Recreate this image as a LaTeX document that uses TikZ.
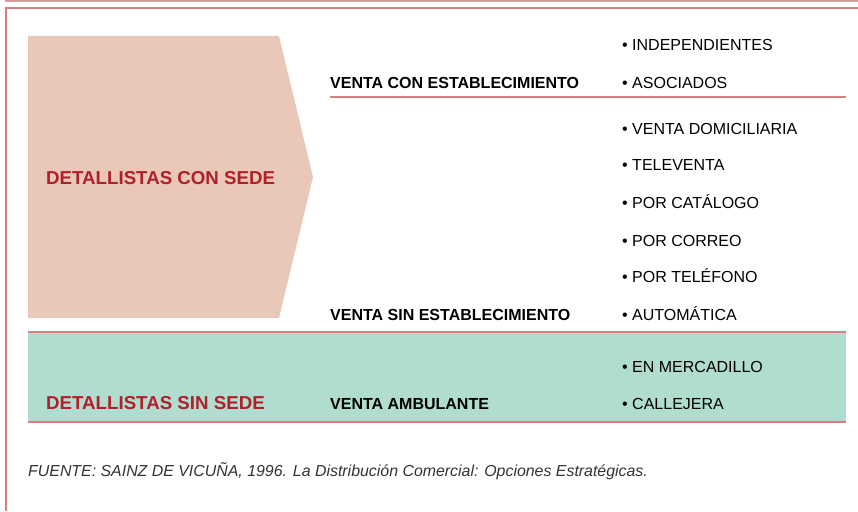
\documentclass[tikz,border=0pt]{standalone}
\usepackage{fontspec}
\setmainfont{Liberation Sans}
\definecolor{peach}{HTML}{E9C8B9}
\definecolor{teal2}{HTML}{B1DCD0}
\definecolor{rline}{HTML}{D67F7F}
\definecolor{rlight}{HTML}{DC9A9A}
\definecolor{rtext}{HTML}{B0202A}
\definecolor{ftext}{HTML}{333333}
\tikzset{
  item/.style={anchor=base west, inner sep=0pt, font=\fontsize{16pt}{19pt}\selectfont},
  cat/.style={anchor=base west, inner sep=0pt, font=\fontsize{16pt}{19pt}\selectfont\bfseries},
  group/.style={anchor=base west, inner sep=0pt, text=rtext, font=\fontsize{18.7pt}{22pt}\selectfont\bfseries},
  thick rule/.style={draw=rline, line width=2.5pt},
  thin rule/.style={draw=rline, line width=1.2pt}
}
\begin{document}
\begin{tikzpicture}[x=1pt,y=-1pt]
\useasboundingbox (0,0) rectangle (858,511);
% frame
\draw[draw=rlight, line width=2.5pt] (5,1.2) -- (858,1.2);
\draw[thick rule] (6,8) -- (858,8);
\draw[thick rule] (6,6.8) -- (6,511);
% shapes
\fill[peach] (28,36) -- (279,36) -- (313,177) -- (279,318) -- (28,318) -- cycle;
\fill[teal2] (28,333) rectangle (846,421);
\draw[thin rule] (330,97) -- (846,97);
\draw[thick rule] (28,332) -- (846,332);
\draw[thick rule] (28,422) -- (846,422);
% group labels
\node[group] (con) at (46,184.5) {DETALLISTAS CON SEDE};
\node[group] (sin) at (46,409) {DETALLISTAS SIN SEDE};
% categories
\node[cat] (vce) at (330,88) {VENTA CON ESTABLECIMIENTO};
\node[cat] (vse) at (330,320.5) {VENTA SIN ESTABLECIMIENTO};
\node[cat] (vam) at (330,409) {VENTA AMBULANTE};
% items
\node[item] (i1) at (622,51) {• INDEPENDIENTES};
\node[item] (i2) at (622,88) {• ASOCIADOS};
\node[item] (i3) at (622,134) {• VENTA DOMICILIARIA};
\node[item] (i4) at (622,170) {• TELEVENTA};
\node[item] (i5) at (622,208) {• POR CATÁLOGO};
\node[item] (i6) at (622,246) {• POR CORREO};
\node[item] (i7) at (622,282) {• POR TELÉFONO};
\node[item] (i8) at (622,320) {• AUTOMÁTICA};
\node[item] (i9) at (622,372) {• EN MERCADILLO};
\node[item] (i10) at (622,409) {• CALLEJERA};
% footer
\node[anchor=base west, inner sep=0pt, text=ftext] (src) at (28,476)
  {\fontsize{15.9pt}{18pt}\selectfont\itshape FUENTE: SAINZ DE VICUÑA, 1996. La Distribución Comercial: Opciones Estratégicas.};
\end{tikzpicture}
\end{document}
